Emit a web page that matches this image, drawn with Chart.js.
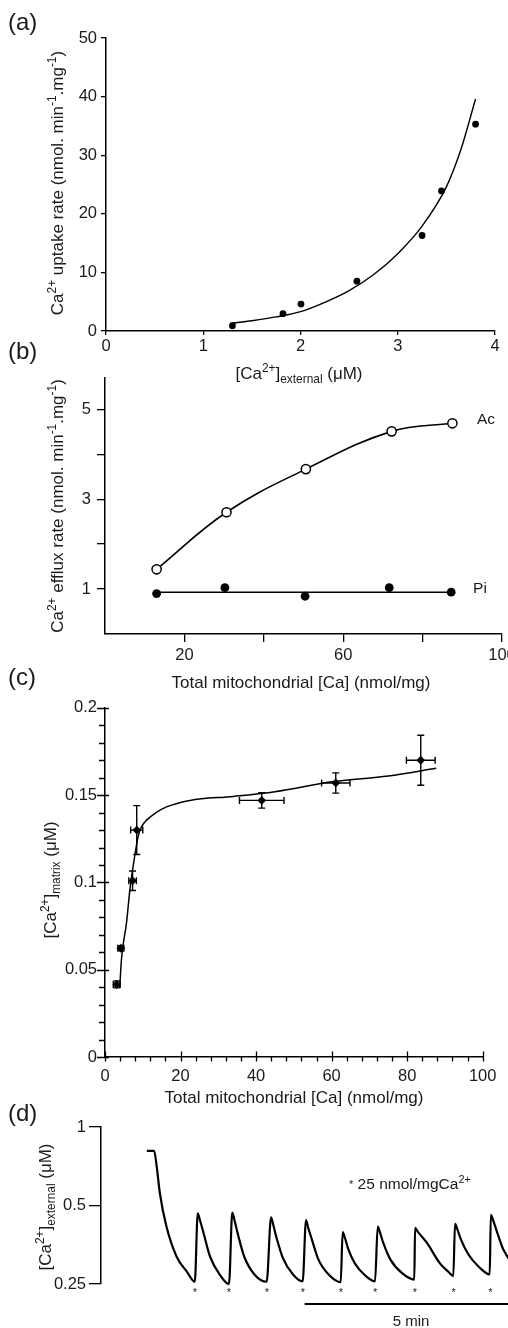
<!DOCTYPE html>
<html><head><meta charset="utf-8">
<script src="https://cdn.jsdelivr.net/npm/chart.js@4.4.1/dist/chart.umd.min.js"></script>
<style>
html,body{margin:0;padding:0;background:#fff;overflow:hidden;width:508px;height:1328px;}
body{position:relative;font-family:"Liberation Sans",Arial,Helvetica,sans-serif;color:#1a1a1a;}
canvas{position:absolute;left:0;}
.t{position:absolute;white-space:nowrap;font-size:17px;line-height:1;transform:translate(-50%,-50%);}
.v{transform:translate(-50%,-50%) rotate(-90deg);}
.p{position:absolute;font-size:24px;line-height:1;left:8px;}
.s{position:absolute;white-space:nowrap;font-size:15.5px;line-height:1;}
sup{font-size:.7em;vertical-align:baseline;position:relative;top:-.55em;}
sub{font-size:.7em;vertical-align:baseline;position:relative;top:.3em;}
</style></head><body>
<canvas id="ca" width="560" height="360" style="top:0px"></canvas>
<canvas id="cb" width="560" height="310" style="top:362px"></canvas>
<canvas id="cc" width="560" height="400" style="top:690px"></canvas>
<canvas id="cd" width="600" height="228" style="top:1100px"></canvas>

<div class="p" style="top:10px">(a)</div>
<div class="p" style="top:339px">(b)</div>
<div class="p" style="top:665px">(c)</div>
<div class="p" style="top:1101px">(d)</div>

<div class="t v" style="left:57px;top:183px">Ca<sup>2+</sup> uptake rate (nmol. min<sup>-1</sup>.mg<sup>-1</sup>)</div>
<div class="t" style="left:299px;top:373px">[Ca<sup>2+</sup>]<sub>external</sub> (μM)</div>
<div class="t v" style="left:57px;top:506px">Ca<sup>2+</sup> efflux rate (nmol. min<sup>-1</sup>.mg<sup>-1</sup>)</div>
<div class="t" style="left:301px;top:682px">Total mitochondrial [Ca] (nmol/mg)</div>
<div class="t v" style="left:50px;top:880px">[Ca<sup>2+</sup>]<sub>matrix</sub> (μM)</div>
<div class="t" style="left:294px;top:1097px">Total mitochondrial [Ca] (nmol/mg)</div>
<div class="t v" style="left:45px;top:1207px">[Ca<sup>2+</sup>]<sub>external</sub> (μM)</div>

<div class="t" style="left:486px;top:419px;font-size:15.5px">Ac</div>
<div class="t" style="left:480px;top:588px;font-size:15.5px">Pi</div>
<div class="s" style="left:349px;top:1176px"><span style="font-size:11px;position:relative;top:-1px">*</span> 25 nmol/mgCa<sup>2+</sup></div>
<div class="t" style="left:411px;top:1320px;font-size:15px">5 min</div>

<script>
// (a) uptake rate vs external Ca
const aX = [1.30, 1.82, 2.005, 2.58, 3.25, 3.45, 3.80];
const aY = [0.9, 2.95, 4.6, 8.5, 16.3, 23.9, 35.3];
const aFitX = [1.28, 1.5, 1.75, 2.0, 2.25, 2.5, 2.75, 3.0, 3.25, 3.5, 3.65, 3.8];
const aFitY = [1.3, 1.75, 2.4, 3.3, 4.9, 6.9, 9.6, 13.2, 17.9, 24.6, 31.0, 39.6];
const aXTicks = [0, 1, 2, 3, 4];
const aYTicks = [0, 10, 20, 30, 40, 50];

// (b) efflux rate vs total mitochondrial Ca
const bAcX = [13.0, 30.6, 50.6, 72.2, 87.5];
const bAcY = [1.44, 2.71, 3.67, 4.51, 4.69];
const bPiX = [13.0, 30.2, 50.4, 71.6, 87.2];
const bPiY = [0.90, 1.03, 0.84, 1.03, 0.93];
const bPiFitX = [13.0, 87.5];
const bPiFitY = [0.93, 0.93];
const bXTicks = [20, 40, 60, 80, 100];
const bYTicks = [1, 2, 3, 4, 5];

// (c) matrix Ca vs total mitochondrial Ca, with error bars
const cX = [3.1, 4.2, 7.3, 8.4, 41.5, 61.1, 83.6];
const cY = [0.0416, 0.0623, 0.101, 0.130, 0.147, 0.157, 0.170];
const cXErr = [0.9, 0.8, 1.0, 1.6, 5.9, 3.75, 3.8];
const cYErr = [0.002, 0.0015, 0.0056, 0.014, 0.0044, 0.0058, 0.0143];
const cFitX = [3.9, 4.4, 5.7, 6.6, 7.5, 8.8, 9.7, 11, 13.5, 16.3, 22.5, 34, 45, 60.5, 75, 87.7];
const cFitY = [0.040, 0.057, 0.077, 0.096, 0.110, 0.1265, 0.132, 0.1357, 0.140, 0.1433, 0.147, 0.1493, 0.152, 0.1578, 0.161, 0.1654];
const cXTicks = [0,4,8,12,16,20,24,28,32,36,40,44,48,52,56,60,64,68,72,76,80,84,88,92,96,100];
const cYTicks = [0,0.01,0.02,0.03,0.04,0.05,0.06,0.07,0.08,0.09,0.1,0.11,0.12,0.13,0.14,0.15,0.16,0.17,0.18,0.19,0.2];

// (d) external Ca trace, time in s
const dT = [63, 73, 76.6, 81, 90, 104, 118, 129,
  133, 136, 141, 150, 164, 176,
  180.5, 183.5, 188, 197, 211, 227.8,
  233.8, 237, 241.5, 250, 264, 277.3,
  281.9, 285, 290, 299, 314, 329.6,
  332.3, 335.5, 340, 349, 363, 376.8,
  380.5, 383.5, 388, 398, 414, 430.8,
  431.8, 436, 448, 466, 478, 484.4,
  486.8, 490, 495, 505, 520, 534.5,
  536, 539, 544, 553, 568, 583];
const dV = [0.81, 0.81, 0.705, 0.556, 0.415, 0.318, 0.279, 0.255,
  0.467, 0.44, 0.392, 0.318, 0.27, 0.25,
  0.47, 0.44, 0.39, 0.318, 0.272, 0.255,
  0.45, 0.42, 0.375, 0.315, 0.272, 0.256,
  0.44, 0.41, 0.37, 0.31, 0.27, 0.254,
  0.395, 0.375, 0.34, 0.30, 0.27, 0.256,
  0.415, 0.395, 0.36, 0.31, 0.275, 0.26,
  0.41, 0.395, 0.36, 0.30, 0.278, 0.268,
  0.425, 0.405, 0.37, 0.325, 0.29, 0.272,
  0.46, 0.44, 0.40, 0.34, 0.295, 0.275];
const dAdds = [129, 176, 228, 277.5, 330, 377, 431.5, 485, 535.5];
const dBar = [280, 580];
const dYTicks = [0.25, 0.5, 1];

const FONT = '"Liberation Sans", Arial, Helvetica, sans-serif';
const INK = '#000';
function pts(xs, ys){ return xs.map((x,i)=>({x:x, y:ys[i]})); }

function axis(o){
  return {
    type: o.type || 'linear', min: o.min, max: o.max, display: o.display !== false,
    afterBuildTicks: s => { s.ticks = o.ticks.map(v => ({value:v})); },
    afterFit: s => { if (o.size != null) { if (s.isHorizontal()) s.height = o.size; else s.width = o.size; } },
    border: {display:true, color:INK, width:1.5},
    grid: {display: o.tick > 0, drawOnChartArea:false, drawTicks: o.tick > 0, tickLength: o.tick || 0, color:INK, lineWidth:1.3},
    ticks: {padding:o.pad, color:'#1a1a1a', font:{family:FONT, size:16.5}, maxRotation:0, autoSkip:false,
      callback: o.label || (v => String(v))}
  };
}
function base(pad, x, y){
  return {
    responsive:false, animation:false, devicePixelRatio:1, events:[],
    layout:{padding:pad},
    plugins:{legend:{display:false}, tooltip:{enabled:false}},
    scales:{x:x, y:y}
  };
}

// panel a
new Chart(document.getElementById('ca'), {
  type:'scatter',
  data:{datasets:[
    {data:pts(aFitX, aFitY), showLine:true, pointRadius:0, borderColor:INK, borderWidth:1.4, cubicInterpolationMode:'monotone'},
    {data:pts(aX, aY), pointRadius:3.4, backgroundColor:INK, borderWidth:0}
  ]},
  options: base({left:0, top:38, right:65, bottom:0},
    axis({min:0, max:4, ticks:aXTicks, tick:4, pad:2, size:29}),
    axis({min:0, max:50, ticks:aYTicks, tick:5, pad:4, size:106}))
});

// panel b
new Chart(document.getElementById('cb'), {
  type:'scatter',
  data:{datasets:[
    {data:pts(bAcX, bAcY), showLine:true, tension:0.4, pointRadius:4.6, pointBackgroundColor:'#fff', pointBorderColor:INK, pointBorderWidth:1.5, borderColor:INK, borderWidth:1.6},
    {data:pts(bPiFitX, bPiFitY), showLine:true, pointRadius:0, borderColor:INK, borderWidth:1.6},
    {data:pts(bPiX, bPiY), pointRadius:4.4, backgroundColor:INK, borderWidth:0}
  ]},
  options: base({left:0, top:15, right:58, bottom:0},
    axis({min:0, max:100, ticks:bXTicks, tick:8, pad:4, size:38, label: v => (v % 40 === 20 ? String(v) : '')}),
    axis({min:0, max:5.7, ticks:bYTicks, tick:8, pad:6, size:105, label: v => (v % 2 === 1 ? String(v) : '')}))
});

// panel c: error bars and crossing ticks
const errBars = {
  id:'errBars',
  beforeDatasetsDraw(chart){
    const {ctx, scales:{x, y}} = chart;
    ctx.save(); ctx.strokeStyle = INK; ctx.lineWidth = 1.4; ctx.beginPath();
    cX.forEach((v, i) => {
      const px = x.getPixelForValue(v), py = y.getPixelForValue(cY[i]);
      const x0 = x.getPixelForValue(v - cXErr[i]), x1 = x.getPixelForValue(v + cXErr[i]);
      const y0 = y.getPixelForValue(cY[i] - cYErr[i]), y1 = y.getPixelForValue(cY[i] + cYErr[i]);
      ctx.moveTo(x0, py); ctx.lineTo(x1, py);
      ctx.moveTo(x0, py - 3.5); ctx.lineTo(x0, py + 3.5);
      ctx.moveTo(x1, py - 3.5); ctx.lineTo(x1, py + 3.5);
      ctx.moveTo(px, y0); ctx.lineTo(px, y1);
      ctx.moveTo(px - 3.5, y0); ctx.lineTo(px + 3.5, y0);
      ctx.moveTo(px - 3.5, y1); ctx.lineTo(px + 3.5, y1);
    });
    ctx.stroke(); ctx.restore();
  }
};
const crossTicks = {
  id:'crossTicks',
  afterDraw(chart){
    const {ctx, chartArea:a, scales:{x, y}} = chart;
    ctx.save(); ctx.strokeStyle = INK; ctx.lineWidth = 1.3; ctx.beginPath();
    x.ticks.forEach(t => {
      const p = Math.round(x.getPixelForValue(t.value)) + 0.5;
      const major = t.label !== '';
      ctx.moveTo(p, a.bottom + 4.5); ctx.lineTo(p, major ? a.bottom - 5.5 : a.bottom);
    });
    y.ticks.forEach(t => {
      const p = Math.round(y.getPixelForValue(t.value)) + 0.5;
      const major = t.label !== '';
      ctx.moveTo(a.left - (major ? 8 : 6), p); ctx.lineTo(major ? a.left + 4 : a.left, p);
    });
    ctx.stroke(); ctx.restore();
  }
};
new Chart(document.getElementById('cc'), {
  type:'scatter',
  data:{datasets:[
    {data:pts(cFitX, cFitY), showLine:true, pointRadius:0, borderColor:INK, borderWidth:1.5, cubicInterpolationMode:'monotone'},
    {data:pts(cX, cY), pointRadius:4.4, pointStyle:'rectRot', backgroundColor:INK, borderWidth:0}
  ]},
  options: base({left:0, top:13, right:77.3, bottom:0},
    axis({min:0, max:100, ticks:cXTicks, tick:0, pad:10, size:33, label: v => (v % 20 === 0 ? String(v) : '')}),
    axis({min:0, max:0.2, ticks:cYTicks, tick:0, pad:8, size:105,
      label: v => (Math.abs(v * 20 - Math.round(v * 20)) < 1e-6 ? String(+v.toFixed(2)) : '')})),
  plugins:[errBars, crossTicks]
});

// panel d: trace, addition marks, 5 min bar
const traceMarks = {
  id:'traceMarks',
  afterDraw(chart){
    const {ctx, chartArea:a, scales:{x}} = chart;
    ctx.save();
    ctx.fillStyle = '#1a1a1a'; ctx.font = '11px ' + FONT; ctx.textAlign = 'center'; ctx.textBaseline = 'middle';
    dAdds.forEach(t => ctx.fillText('*', x.getPixelForValue(t), a.bottom + 9));
    ctx.strokeStyle = INK; ctx.lineWidth = 2.2; ctx.beginPath();
    ctx.moveTo(x.getPixelForValue(dBar[0]), a.bottom + 20); ctx.lineTo(x.getPixelForValue(dBar[1]), a.bottom + 20);
    ctx.stroke(); ctx.restore();
  }
};
new Chart(document.getElementById('cd'), {
  type:'scatter',
  data:{datasets:[
    {data:pts(dT, dV), showLine:true, pointRadius:0, borderColor:INK, borderWidth:2.2, cubicInterpolationMode:'monotone', clip:4}
  ]},
  options: base({left:0, top:27, right:19, bottom:44},
    axis({min:0, max:660, ticks:[0], tick:0, pad:0, display:false}),
    axis({type:'logarithmic', min:0.25, max:1, ticks:dYTicks, tick:12, pad:3, size:101})),
  plugins:[traceMarks]
});
</script>
</body></html>
